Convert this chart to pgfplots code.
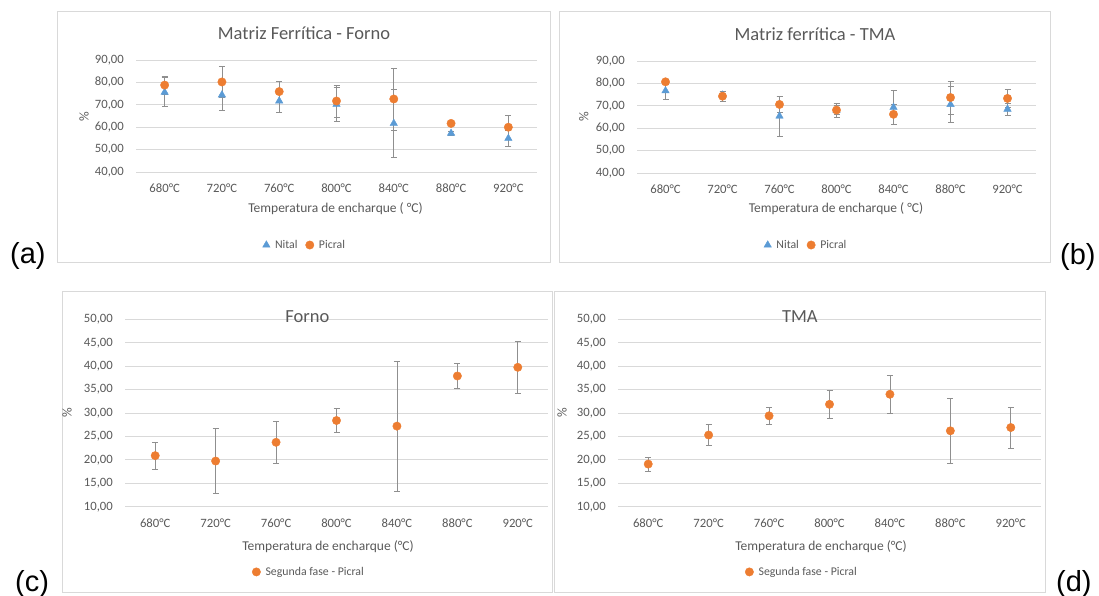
\documentclass[border=0pt]{standalone}
\usepackage{pgfplots}
\pgfplotsset{compat=1.18}
\usepackage{fontspec}
\setmainfont{Carlito}
\newfontfamily\arialfont{Liberation Sans}
\definecolor{nital}{HTML}{5B9BD5}
\definecolor{picral}{HTML}{ED7D31}
\definecolor{txt}{HTML}{595959}
\definecolor{gridc}{HTML}{D9D9D9}
\definecolor{framec}{HTML}{D9D9D9}
\definecolor{errc}{HTML}{8F8F8F}
\pgfplotsset{
  panel/.style={
    scale only axis,
    xmin=-0.5, xmax=6.5,
    xtick={0,...,6},
    xticklabels={680°C,720°C,760°C,800°C,840°C,880°C,920°C},
    axis line style={draw=none},
    major tick length=0pt,
    tick style={draw=none},
    ymajorgrids,
    grid style={draw=gridc, line width=0.75pt},
    xticklabel style={anchor=center, yshift=-16pt, font=\fontsize{12.7}{14}\selectfont, text=txt},
    yticklabel style={anchor=east, inner sep=0pt, xshift=-12pt, font=\fontsize{12.7}{14}\selectfont, text=txt},
    label style={font=\fontsize{13.5}{15}\selectfont, text=txt},
    title style={font=\fontsize{18.5}{20}\selectfont, text=txt, anchor=center},
    legend style={draw=none, fill=none, anchor=center, legend columns=2,
      font=\fontsize{11.8}{13}\selectfont, text=txt,
      /tikz/every odd column/.append style={column sep=3pt},
      /tikz/every even column/.append style={column sep=6pt}},
    ylabel={\%},
    clip=false,
  },
  eb/.style={
    only marks,
    error bars/.cd, y dir=both, y explicit,
      error bar style={draw=errc, line width=0.7pt},
      error mark options={draw=errc, line width=0.7pt, mark size=3pt, rotate=90},
  },
  nit/.style={mark=triangle*, mark size=4.3pt, mark options={fill=nital, draw=nital}, eb},
  pic/.style={mark=*, mark size=4.2pt, mark options={fill=picral, draw=picral}, eb},
}
\begin{document}
\begin{tikzpicture}
\useasboundingbox (0,0) rectangle (1099pt,-596pt);
% frames
\draw[framec, line width=0.9pt] (57pt,-11pt) rectangle (550pt,-262pt);
\draw[framec, line width=0.9pt] (559pt,-11pt) rectangle (1050pt,-262pt);
\draw[framec, line width=0.9pt] (62pt,-291pt) rectangle (552pt,-592pt);
\draw[framec, line width=0.9pt] (554pt,-291pt) rectangle (1045pt,-592pt);

% (a)
\begin{axis}[panel, at={(136pt,-172pt)}, anchor=south west,
  width=401pt, height=112pt, ymin=40, ymax=90,
  ytick={40,50,...,90},
  yticklabels={{40,00},{50,00},{60,00},{70,00},{80,00},{90,00}},
  title={Matriz Ferrítica - Forno},
  title style={at={(axis description cs:0.419,1.1875)}},
  xlabel={Temperatura de encharque ( °C)},
  xlabel style={at={(axis description cs:0.4975,-0.330)}, anchor=center},
  ylabel style={at={(axis description cs:-0.1297,0.491)}, anchor=center},
  legend style={at={(axis description cs:0.421,-0.652)}},
]
\addplot[nit] coordinates {
 (0,75.6) +- (0,6.5)
 (1,74.4) +- (0,6.7)
 (2,71.7) +- (0,5.2)
 (3,70.2) +- (0,7.4)
 (4,61.7) +- (0,15.3)
 (5,57.3) +- (0,1.0)
 (6,55.0) +- (0,3.4)
};
\addlegendentry{Nital}
\addplot[pic] coordinates {
 (0,78.8) +- (0,4.0)
 (1,80.2) +- (0,6.8)
 (2,75.9) +- (0,4.7)
 (3,71.7) +- (0,7.1)
 (4,72.6) +- (0,13.8)
 (5,61.7) +- (0,1.0)
 (6,60.0) +- (0,5.4)
};
\addlegendentry{Picral}
\end{axis}

% (b)
\begin{axis}[panel, at={(637pt,-173pt)}, anchor=south west,
  width=399pt, height=112pt, ymin=40, ymax=90,
  ytick={40,50,...,90},
  yticklabels={{40,00},{50,00},{60,00},{70,00},{80,00},{90,00}},
  title={Matriz ferrítica - TMA},
  title style={at={(axis description cs:0.446,1.1875)}},
  xlabel={Temperatura de encharque ( °C)},
  xlabel style={at={(axis description cs:0.4987,-0.321)}, anchor=center},
  ylabel style={at={(axis description cs:-0.133,0.5)}, anchor=center},
  legend style={at={(axis description cs:0.424,-0.643)}},
]
\addplot[nit] coordinates {
 (0,76.7) +- (0,3.6)
 (1,74.8) +- (0,1.5)
 (2,65.4) +- (0,9.0)
 (3,68.0) +- (0,2.0)
 (4,69.3) +- (0,7.7)
 (5,70.6) +- (0,8.0)
 (6,68.5) +- (0,2.6)
};
\addlegendentry{Nital}
\addplot[pic] coordinates {
 (0,80.7) +- (0,1.0)
 (1,74.3) +- (0,2.1)
 (2,70.6) +- (0,3.5)
 (3,68.1) +- (0,3.1)
 (4,66.2) +- (0,4.5)
 (5,73.7) +- (0,7.3)
 (6,73.3) +- (0,4.2)
};
\addlegendentry{Picral}
\end{axis}

% (c)
\begin{axis}[panel, at={(125pt,-506.7pt)}, anchor=south west,
  width=423pt, height=187.4pt, ymin=10, ymax=50,
  ytick={10,15,...,50},
  yticklabels={{10,00},{15,00},{20,00},{25,00},{30,00},{35,00},{40,00},{45,00},{50,00}},
  title={Forno},
  title style={at={(axis description cs:0.431,0.980)}},
  xlabel={Temperatura de encharque (°C)},
  xlabel style={at={(axis description cs:0.48,-0.215)}, anchor=center},
  ylabel style={at={(axis description cs:-0.137,0.5)}, anchor=center},
  legend style={at={(axis description cs:0.435,-0.348)}},
]
\addplot[pic] coordinates {
 (0,20.9) +- (0,2.9)
 (1,19.75) +- (0,6.9)
 (2,23.75) +- (0,4.5)
 (3,28.4) +- (0,2.6)
 (4,27.2) +- (0,13.9)
 (5,37.9) +- (0,2.6)
 (6,39.75) +- (0,5.5)
};
\addlegendentry{Segunda fase - Picral}
\end{axis}

% (d)
\begin{axis}[panel, at={(618pt,-506.7pt)}, anchor=south west,
  width=423pt, height=187.4pt, ymin=10, ymax=50,
  ytick={10,15,...,50},
  yticklabels={{10,00},{15,00},{20,00},{25,00},{30,00},{35,00},{40,00},{45,00},{50,00}},
  title={TMA},
  title style={at={(axis description cs:0.430,0.980)}},
  xlabel={Temperatura de encharque (°C)},
  xlabel style={at={(axis description cs:0.48,-0.215)}, anchor=center},
  ylabel style={at={(axis description cs:-0.132,0.5)}, anchor=center},
  legend style={at={(axis description cs:0.435,-0.348)}},
]
\addplot[pic] coordinates {
 (0,19.1) +- (0,1.5)
 (1,25.3) +- (0,2.3)
 (2,29.4) +- (0,1.9)
 (3,31.85) +- (0,2.9)
 (4,34.0) +- (0,4.05)
 (5,26.2) +- (0,6.9)
 (6,26.9) +- (0,4.4)
};
\addlegendentry{Segunda fase - Picral}
\end{axis}

% panel letters
\node[anchor=base west, inner sep=0pt, font=\arialfont\fontsize{29}{30}\selectfont] at (10pt,-263pt) {(a)};
\node[anchor=base west, inner sep=0pt, font=\arialfont\fontsize{29}{30}\selectfont] at (1060pt,-264pt) {(b)};
\node[anchor=base west, inner sep=0pt, font=\arialfont\fontsize{29}{30}\selectfont] at (15pt,-591pt) {(c)};
\node[anchor=base west, inner sep=0pt, font=\arialfont\fontsize{29}{30}\selectfont] at (1056pt,-591pt) {(d)};
\end{tikzpicture}
\end{document}
